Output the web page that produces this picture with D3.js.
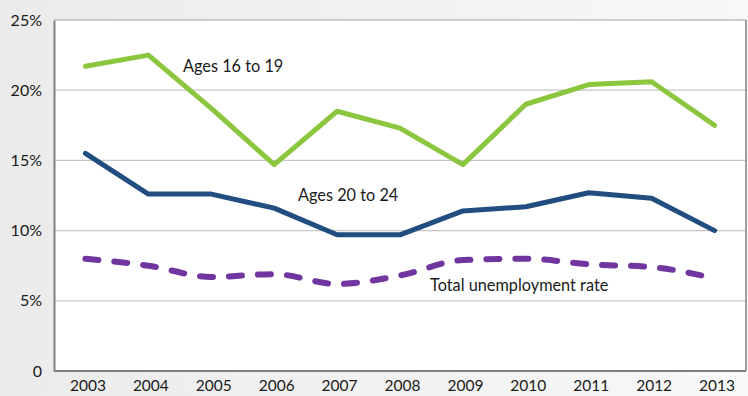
<!DOCTYPE html>
<html>
<head>
<meta charset="utf-8">
<script src="https://cdn.jsdelivr.net/npm/d3@7"></script>
<style>
html,body{margin:0;padding:0;background:#efefef;}
svg{display:block;}
text{font-family:Lato,"Open Sans",sans-serif;fill:#1a1a1a;}
</style>
</head>
<body>
<svg id="chart" width="748" height="396"></svg>
<script>
const years = ["2003","2004","2005","2006","2007","2008","2009","2010","2011","2012","2013"];
const ages16to19 = [21.7,22.5,18.7,14.7,18.5,17.3,14.7,19.0,20.4,20.6,17.5];
const ages20to24 = [15.5,12.6,12.6,11.6,9.7,9.7,11.4,11.7,12.7,12.3,10.0];
const totalRate = [8.0,7.5,6.7,6.9,6.2,6.8,7.9,8.0,7.6,7.4,6.6];
const yTicks = [0,5,10,15,20,25];
const yTickLabels = ["0","5%","10%","15%","20%","25%"];
const seriesLabels = ["Ages 16 to 19","Ages 20 to 24","Total unemployment rate"];

const svg = d3.select("#chart");
const W = 748, H = 396;
const m = {left:54, right:2, top:20, bottom:25};

// background gradient
const defs = svg.append("defs");
const g1 = defs.append("linearGradient").attr("id","bg").attr("x1","0").attr("x2","1").attr("y1","0").attr("y2","0");
g1.append("stop").attr("offset","0").attr("stop-color","#ebebeb");
g1.append("stop").attr("offset","1").attr("stop-color","#f8f8f8");
svg.append("rect").attr("width",W).attr("height",H).attr("fill","url(#bg)");

const x = d3.scalePoint().domain(years).range([m.left, W - m.right]).padding(0.5);
const y = d3.scaleLinear().domain([0,25]).range([H - m.bottom, m.top]);

// plot area
svg.append("rect").attr("x",m.left).attr("y",m.top)
  .attr("width",W - m.right - m.left).attr("height",H - m.bottom - m.top)
  .attr("fill","#ffffff");

// gridlines
svg.append("g").selectAll("line").data(yTicks.filter(d=>d>0 && d<25)).join("line")
  .attr("x1",m.left).attr("x2",W - m.right)
  .attr("y1",d=>y(d)).attr("y2",d=>y(d))
  .attr("stroke","#c6c6c6").attr("stroke-width",1.2);

// frame
svg.append("line").attr("x1",m.left).attr("x2",W-m.right).attr("y1",m.top).attr("y2",m.top)
  .attr("stroke","#a0a0a0").attr("stroke-width",1.2);
svg.append("line").attr("x1",W-m.right).attr("x2",W-m.right).attr("y1",m.top).attr("y2",H-m.bottom)
  .attr("stroke","#808080").attr("stroke-width",1.5);

// y axis
const yAxis = d3.axisLeft(y).tickValues(yTicks).tickSize(0).tickPadding(12)
  .tickFormat((d,i)=>yTickLabels[i]);
const ya = svg.append("g").attr("transform",`translate(${m.left},0)`).call(yAxis);
ya.select(".domain").attr("stroke","#808080").attr("stroke-width",2);
ya.selectAll("text").attr("font-size",16).attr("font-family","Lato, sans-serif").attr("fill","#1a1a1a");

// x axis
const xAxis = d3.axisBottom(x).tickSize(0).tickPadding(9);
const xa = svg.append("g").attr("transform",`translate(0,${H-m.bottom})`).call(xAxis);
xa.select(".domain").attr("d",`M${m.left},0H${W-m.right}`).attr("stroke","#808080").attr("stroke-width",2);
xa.selectAll("text").attr("font-size",15.5).attr("font-family","Lato, sans-serif").attr("fill","#1a1a1a").attr("dx",2);

// lines
const straight = d3.line().x((d,i)=>x(years[i])).y(d=>y(d));
const smooth = d3.line().x((d,i)=>x(years[i])).y(d=>y(d)).curve(d3.curveMonotoneX);

svg.append("path").datum(totalRate).attr("d",smooth)
  .attr("fill","none").attr("stroke","#7135a0").attr("stroke-width",6)
  .attr("stroke-linecap","round").attr("stroke-dasharray","13,16");

svg.append("path").datum(ages20to24).attr("d",straight)
  .attr("fill","none").attr("stroke","#214d80").attr("stroke-width",5)
  .attr("stroke-linejoin","round").attr("stroke-linecap","round");

svg.append("path").datum(ages16to19).attr("d",straight)
  .attr("fill","none").attr("stroke","#8cc63f").attr("stroke-width",5)
  .attr("stroke-linejoin","round").attr("stroke-linecap","round");

// series labels
const labelPos = [[183,72],[298,201],[430,291]];
svg.append("g").selectAll("text").data(seriesLabels).join("text")
  .attr("x",(d,i)=>labelPos[i][0]).attr("y",(d,i)=>labelPos[i][1])
  .attr("font-size",16.3).text(d=>d);
</script>
</body>
</html>
